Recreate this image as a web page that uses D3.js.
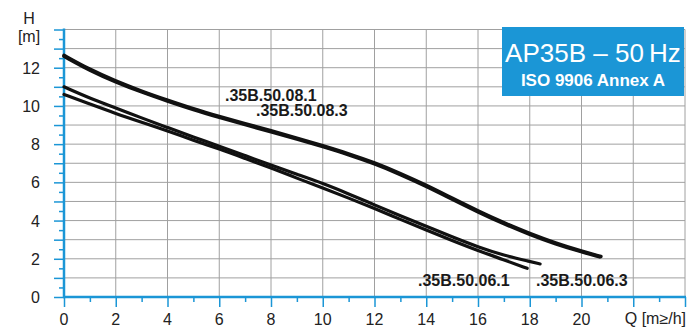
<!DOCTYPE html>
<html><head><meta charset="utf-8">
<script src="https://cdn.jsdelivr.net/npm/d3@7"></script>
<style>body{margin:0;background:#fff}svg{display:block}</style>
</head><body>
<svg id="c" width="699" height="327"></svg>
<script>
const title = "AP35B \u2013 50\u2009Hz";
const subtitle = "ISO 9906 Annex A";
const xTicks = [0,2,4,6,8,10,12,14,16,18,20];
const yTicks = [0,2,4,6,8,10,12];
const xLabel = "Q [m\u2265/h]";
const yLabel1 = "H", yLabel2 = "[m]";

const q08_1 = [0,1,2,3,4,5,6,7,8,9,10,11,12,13,14,15,16,17,18,19,20,20.7];
const h08_1 = [12.6,11.85,11.25,10.72,10.25,9.8,9.4,9.02,8.65,8.27,7.87,7.45,6.98,6.42,5.8,5.12,4.45,3.83,3.27,2.77,2.36,2.1];
const q08_3 = [0,1,2,3,4,5,6,7,8,9,10,11,12,13,14,15,16,17,18,19,20,20.75];
const h08_3 = [12.65,11.9,11.3,10.77,10.3,9.85,9.45,9.07,8.7,8.32,7.92,7.5,7.03,6.47,5.85,5.17,4.5,3.88,3.32,2.82,2.4,2.12];
const q06_1 = [0,1,2,3,4,5,6,7,8,9,10,11,12,13,14,15,16,17,17.9];
const h06_1 = [10.6,10.1,9.6,9.15,8.7,8.2,7.75,7.25,6.75,6.22,5.7,5.18,4.63,4.06,3.5,2.95,2.42,1.95,1.5];
const q06_3 = [0,1,2,3,4,5,6,7,8,9,10,11,12,13,14,15,16,17,18,18.4];
const h06_3 = [11.0,10.4,9.9,9.37,8.87,8.37,7.9,7.4,6.9,6.42,5.95,5.4,4.82,4.25,3.7,3.15,2.62,2.18,1.86,1.73];
const seriesNames = [".35B.50.08.1", ".35B.50.08.3", ".35B.50.06.1", ".35B.50.06.3"];

const svg = d3.select("#c");
const x = d3.scaleLinear().domain([0,24]).range([64,685]);
const y = d3.scaleLinear().domain([0,14]).range([297,29.5]);
const blue = "#1b96d6";
const font = "'Liberation Sans', Arial, sans-serif";

// grid
const g = svg.append("g");
g.selectAll("line.h").data(d3.range(1,15)).join("line")
  .attr("x1", x(0)).attr("x2", x(24)).attr("y1", d=>y(d)).attr("y2", d=>y(d))
  .attr("stroke", "#a0a0a0").attr("stroke-width", 1);
g.selectAll("line.v").data(d3.range(2,25,2)).join("line")
  .attr("x1", d=>x(d)).attr("x2", d=>x(d)).attr("y1", y(0)).attr("y2", y(14))
  .attr("stroke", "#a0a0a0").attr("stroke-width", 1);

// axes
const xAx = svg.append("g").attr("transform", `translate(0,${y(0)})`)
  .call(d3.axisBottom(x).tickValues(d3.range(0,25,1)).tickSize(0).tickFormat(""));
xAx.select(".domain").remove();
xAx.selectAll(".tick line").attr("y2", d => d%2===0 ? 10 : 5).attr("stroke", blue).attr("stroke-width", 1.5);
const yAx = svg.append("g").attr("transform", `translate(${x(0)},0)`)
  .call(d3.axisLeft(y).tickValues(d3.range(0,14.01,0.5)).tickSize(0).tickFormat(""));
yAx.select(".domain").remove();
yAx.selectAll(".tick line").attr("x2", d => Number.isInteger(d) ? -10 : -5).attr("stroke", blue).attr("stroke-width", 1.5);

svg.append("line").attr("x1", x(0)-1).attr("x2", x(24)+1).attr("y1", y(0)).attr("y2", y(0)).attr("stroke", blue).attr("stroke-width", 2.5);
svg.append("line").attr("x1", x(0)).attr("x2", x(0)).attr("y1", y(0)).attr("y2", y(14)-1).attr("stroke", blue).attr("stroke-width", 2.5);

// tick labels
svg.append("g").selectAll("text").data(xTicks).join("text")
  .attr("x", d=>x(d)).attr("y", 325).attr("text-anchor", "middle")
  .attr("font-family", font).attr("font-size", 16).attr("fill", "#222").text(d=>d);
svg.append("g").selectAll("text").data(yTicks).join("text")
  .attr("x", 40).attr("y", d=>y(d)+6).attr("text-anchor", "end")
  .attr("font-family", font).attr("font-size", 16).attr("fill", "#222").text(d=>d);
svg.append("text").attr("x", 29).attr("y", 24).attr("text-anchor","middle")
  .attr("font-family", font).attr("font-size", 16).attr("fill", "#222").text(yLabel1);
svg.append("text").attr("x", 29).attr("y", 42).attr("text-anchor","middle")
  .attr("font-family", font).attr("font-size", 16).attr("fill", "#222").text(yLabel2);
svg.append("text").attr("x", 686).attr("y", 324).attr("text-anchor","end")
  .attr("font-family", font).attr("font-size", 16).attr("fill", "#222").text(xLabel);

// curves
const line = d3.line().x(d=>x(d[0])).y(d=>y(d[1])).curve(d3.curveBasis);
const series = [[q08_1,h08_1,3.5],[q08_3,h08_3,3.5],[q06_1,h06_1,3.2],[q06_3,h06_3,3.2]];
svg.append("g").selectAll("path").data(series).join("path")
  .attr("d", s => line(d3.zip(s[0], s[1])))
  .attr("fill","none").attr("stroke","#111").attr("stroke-width", s=>s[2]).attr("stroke-linecap","round");

// series labels
const labelPos = [[225,101],[256,116],[418,286],[536,286]];
svg.append("g").selectAll("text").data(seriesNames).join("text")
  .attr("x", (d,i)=>labelPos[i][0]).attr("y", (d,i)=>labelPos[i][1])
  .attr("font-family", font).attr("font-size", 16).attr("font-weight", "bold").attr("fill", "#1a1a1a")
  .text(d=>d);

// title box
svg.append("rect").attr("x", 502).attr("y", 27).attr("width", 182).attr("height", 69).attr("fill", blue);
svg.append("text").attr("x", 593).attr("y", 62).attr("text-anchor","middle")
  .attr("font-family", font).attr("font-size", 26).attr("fill", "#fff").text(title);
svg.append("text").attr("x", 593).attr("y", 86).attr("text-anchor","middle")
  .attr("font-family", font).attr("font-size", 17).attr("font-weight","bold").attr("fill", "#fff").text(subtitle);
</script>
</body></html>
